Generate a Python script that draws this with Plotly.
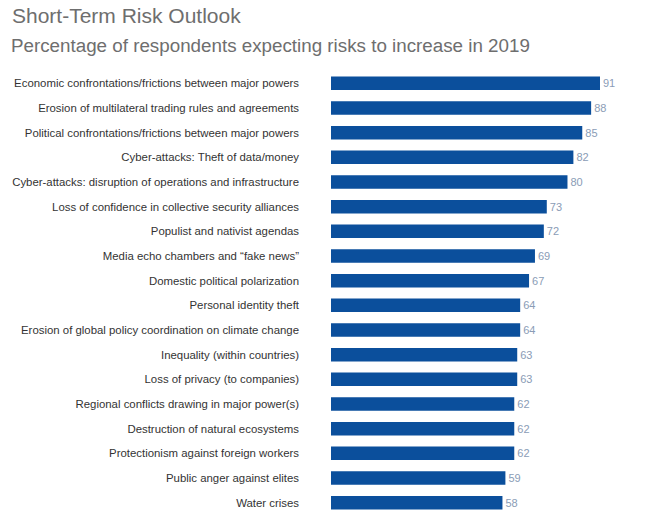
import plotly.graph_objects as go

categories = [
    "Economic confrontations/frictions between major powers",
    "Erosion of multilateral trading rules and agreements",
    "Political confrontations/frictions between major powers",
    "Cyber-attacks: Theft of data/money",
    "Cyber-attacks: disruption of operations and infrastructure",
    "Loss of confidence in collective security alliances",
    "Populist and nativist agendas",
    "Media echo chambers and \u201cfake news\u201d",
    "Domestic political polarization",
    "Personal identity theft",
    "Erosion of global policy coordination on climate change",
    "Inequality (within countries)",
    "Loss of privacy (to companies)",
    "Regional conflicts drawing in major power(s)",
    "Destruction of natural ecosystems",
    "Protectionism against foreign workers",
    "Public anger against elites",
    "Water crises",
]
values = [91, 88, 85, 82, 80, 73, 72, 69, 67, 64, 64, 63, 63, 62, 62, 62, 59, 58]

title_text = "Short-Term Risk Outlook"
subtitle_text = "Percentage of respondents expecting risks to increase in 2019"

FONT = "Liberation Sans, Arial, Helvetica, sans-serif"

fig = go.Figure(
    go.Bar(
        x=values,
        y=categories,
        orientation="h",
        marker=dict(color="#0b4f9c", line=dict(width=0)),
        text=[str(v) for v in values],
        textposition="outside",
        textfont=dict(family=FONT, size=11, color="#8a9cb6"),
        cliponaxis=False,
    )
)

fig.update_layout(
    width=651,
    height=515,
    margin=dict(l=331, r=0, t=71, b=0),
    paper_bgcolor="white",
    plot_bgcolor="white",
    showlegend=False,
    bargap=0.45,
    font=dict(family=FONT),
    title=dict(
        text=title_text,
        x=12 / 651,
        xanchor="left",
        xref="container",
        y=1 - 8 / 515,
        yanchor="top",
        yref="container",
        font=dict(family=FONT, size=21, color="#6e6e6e"),
    ),
    annotations=[
        dict(
            text=subtitle_text,
            xref="paper",
            yref="paper",
            x=(9 - 331) / 320,
            y=(515 - 33) / 444,
            xanchor="left",
            yanchor="top",
            showarrow=False,
            font=dict(family=FONT, size=18.8, color="#6e6e6e"),
        )
    ],
)

fig.update_xaxes(
    range=[0, 320 / 2.956],
    visible=False,
    showgrid=False,
    zeroline=False,
)
fig.update_yaxes(
    categoryorder="array",
    categoryarray=categories,
    range=[17.5, -0.5],
    showgrid=False,
    zeroline=False,
    showline=False,
    ticks="",
    ticklabelstandoff=31,
    tickfont=dict(family=FONT, size=11.4, color="#333333"),
)

fig.write_html("out.html")
